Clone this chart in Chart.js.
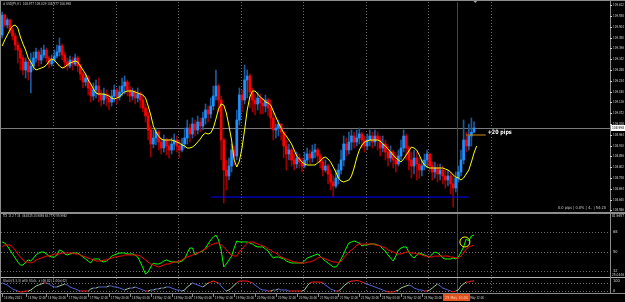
<!DOCTYPE html>
<html>
<head>
<meta charset="utf-8">
<script src="https://cdn.jsdelivr.net/npm/chart.js@4.4.1/dist/chart.umd.min.js"></script>
<style>
  html, body { margin: 0; padding: 0; background: #000; overflow: hidden; }
  #wrap { position: relative; width: 625px; height: 302px; }
</style>
</head>
<body>
<div id="wrap"><canvas id="chart" width="625" height="302"></canvas></div>
<script>
// USDJPY H1, one value per bar (bar 0 = 14 May 2021 03:00)
const closes = [109.563,109.513,109.538,109.488,109.458,109.413,109.388,109.348,109.288,109.328,
  109.278,109.308,109.348,109.378,109.338,109.363,109.388,109.348,109.318,109.338,
  109.358,109.378,109.408,109.363,109.328,109.308,109.338,109.318,109.348,109.308,
  109.268,109.228,109.248,109.198,109.158,109.188,109.208,109.163,109.138,109.168,
  109.148,109.128,109.158,109.188,109.153,109.178,109.208,109.228,109.188,109.158,
  109.178,109.148,109.168,109.138,109.098,109.058,108.988,108.918,108.948,108.978,
  108.928,108.898,108.938,108.908,108.888,108.918,108.938,108.908,108.888,108.918,
  108.948,108.998,108.968,109.018,108.988,109.028,109.008,109.048,109.088,109.068,
  109.108,109.158,109.208,109.138,108.938,108.788,108.758,108.808,108.888,108.858,
  109.038,109.163,109.138,109.238,109.258,109.178,109.138,109.118,109.148,109.123,
  109.108,109.138,109.098,109.048,108.988,108.998,109.018,108.978,108.908,108.868,
  108.888,108.838,108.818,108.848,108.828,108.808,108.838,108.868,108.848,108.878,
  108.888,108.858,108.828,108.788,108.808,108.768,108.728,108.708,108.748,108.788,
  108.838,108.918,108.888,108.928,108.958,108.928,108.948,108.968,108.938,108.908,
  108.938,108.958,108.928,108.958,108.938,108.898,108.918,108.878,108.848,108.878,
  108.838,108.818,108.858,108.898,108.958,108.898,108.838,108.808,108.848,108.818,
  108.788,108.808,108.838,108.868,108.808,108.778,108.798,108.768,108.788,108.758,
  108.738,108.758,108.718,108.698,108.748,108.778,108.838,108.938,108.908,108.958,
  108.977,108.998];
const highs = [109.578,109.568,109.548,109.543,109.498,109.473,109.428,109.398,109.363,109.348,
  109.338,109.373,109.378,109.398,109.388,109.398,109.413,109.398,109.358,109.363,
  109.388,109.413,109.448,109.418,109.378,109.348,109.358,109.353,109.368,109.358,
  109.318,109.278,109.268,109.258,109.218,109.223,109.238,109.248,109.188,109.198,
  109.188,109.168,109.188,109.213,109.198,109.208,109.248,109.258,109.238,109.208,
  109.198,109.188,109.198,109.178,109.158,109.118,109.078,109.008,108.988,108.998,
  108.988,108.948,108.963,108.948,108.938,108.948,108.968,108.958,108.938,108.948,
  108.998,109.038,109.018,109.048,109.038,109.058,109.048,109.078,109.118,109.108,
  109.148,109.208,109.288,109.218,109.158,108.948,108.838,108.848,108.918,108.908,
  109.088,109.198,109.188,109.313,109.288,109.268,109.198,109.168,109.178,109.168,
  109.148,109.163,109.148,109.138,109.078,109.018,109.038,109.018,108.978,108.938,
  108.918,108.898,108.868,108.878,108.868,108.848,108.878,108.898,108.888,108.913,
  108.918,108.898,108.868,108.848,108.838,108.818,108.788,108.758,108.788,108.818,
  108.888,108.958,108.948,108.978,108.988,108.978,108.988,108.998,108.978,108.958,
  108.968,108.988,108.978,108.988,108.978,108.958,108.958,108.938,108.908,108.908,
  108.888,108.868,108.888,108.938,108.988,108.968,108.908,108.878,108.888,108.878,
  108.848,108.838,108.868,108.888,108.868,108.828,108.828,108.818,108.818,108.808,
  108.788,108.788,108.778,108.758,108.778,108.808,108.888,109.038,108.978,109.018,
  109.048,109.029];
const lows = [109.448,109.503,109.498,109.473,109.438,109.388,109.323,109.288,109.263,109.248,
  109.238,109.173,109.288,109.328,109.308,109.318,109.348,109.328,109.298,109.308,
  109.328,109.348,109.358,109.338,109.298,109.288,109.298,109.288,109.308,109.278,
  109.238,109.198,109.208,109.163,109.128,109.138,109.148,109.128,109.108,109.118,
  109.108,109.088,109.108,109.128,109.118,109.138,109.158,109.168,109.158,109.128,
  109.138,109.118,109.128,109.098,109.078,109.028,108.938,108.853,108.898,108.913,
  108.888,108.868,108.878,108.863,108.848,108.868,108.888,108.878,108.848,108.878,
  108.898,108.918,108.928,108.948,108.958,108.968,108.978,108.988,109.018,109.028,
  109.048,109.088,109.138,109.078,108.838,108.623,108.688,108.738,108.778,108.813,
  108.838,109.013,109.078,109.118,109.148,109.098,109.078,109.063,109.088,109.068,
  109.068,109.078,109.058,108.998,108.938,108.948,108.958,108.938,108.848,108.788,
  108.838,108.808,108.788,108.798,108.798,108.778,108.798,108.818,108.818,108.828,
  108.848,108.828,108.798,108.758,108.778,108.718,108.688,108.653,108.698,108.718,
  108.768,108.808,108.858,108.868,108.888,108.898,108.908,108.918,108.898,108.878,
  108.888,108.908,108.898,108.908,108.888,108.858,108.878,108.838,108.808,108.828,
  108.798,108.778,108.808,108.838,108.878,108.838,108.788,108.748,108.768,108.738,
  108.748,108.758,108.788,108.798,108.778,108.738,108.748,108.728,108.738,108.718,
  108.698,108.708,108.668,108.603,108.678,108.728,108.758,108.818,108.878,108.888,
  108.908,108.977];
const firstOpen = 109.463;

const yellowMA = [109.408,109.438,109.463,109.488,109.508,109.513,109.498,109.453,109.418,109.388,
  109.348,109.328,109.303,109.288,109.293,109.298,109.303,109.313,109.333,109.343,
  109.338,109.323,109.308,109.298,109.303,109.313,109.323,109.328,109.333,109.328,
  109.308,109.288,109.268,109.238,109.218,109.193,109.173,109.168,109.168,109.168,
  109.163,109.158,109.148,109.143,109.148,109.153,109.168,109.178,109.183,109.183,
  109.183,109.178,109.173,109.168,109.163,109.148,109.108,109.063,109.008,108.978,
  108.958,108.943,108.938,108.938,108.938,108.938,108.933,108.928,108.923,108.913,
  108.908,108.898,108.898,108.903,108.913,108.928,108.943,108.963,108.973,108.968,
  108.973,108.998,109.043,109.093,109.118,109.113,109.073,109.008,108.938,108.838,
  108.803,108.833,108.898,108.988,109.088,109.153,109.183,109.183,109.168,109.153,
  109.143,109.128,109.123,109.113,109.083,109.053,109.023,108.998,108.973,108.958,
  108.938,108.918,108.888,108.858,108.843,108.828,108.818,108.813,108.813,108.813,
  108.813,108.823,108.833,108.848,108.853,108.843,108.828,108.803,108.778,108.748,
  108.733,108.728,108.733,108.738,108.758,108.798,108.848,108.888,108.913,108.928,
  108.933,108.938,108.938,108.938,108.938,108.933,108.918,108.908,108.893,108.878,
  108.863,108.848,108.838,108.828,108.843,108.863,108.883,108.903,108.898,108.888,
  108.863,108.833,108.813,108.803,108.798,108.798,108.798,108.798,108.798,108.798,
  108.793,108.788,108.778,108.763,108.753,108.748,108.738,108.748,108.768,108.788,
  108.828,108.873,108.908];

const tdiPrice = [58.8,57.8,55.1,51.4,47.7,44.0,40.3,37.5,37.5,40.3,
  42.2,41.2,44.0,46.8,48.6,49.5,49.5,47.7,45.8,44.9,
  44.9,46.8,51.4,50.5,47.7,46.8,47.7,48.6,48.6,48.6,
  46.8,44.9,43.1,41.2,39.4,43.1,43.1,43.1,41.2,40.3,
  41.2,43.1,45.8,46.8,47.7,48.6,48.6,48.6,47.7,47.7,
  47.7,46.8,44.9,40.3,34.8,29.2,31.1,35.7,39.4,38.5,
  38.5,39.4,41.2,42.2,41.2,40.3,40.3,40.3,40.3,41.2,
  43.1,48.6,53.2,53.2,46.8,48.6,49.5,50.5,53.2,56.9,
  60.6,63.4,65.2,60.6,51.4,35.7,38.5,42.2,45.8,53.2,
  59.7,58.8,58.8,58.8,58.8,57.8,56.9,55.1,54.2,54.2,
  54.2,52.3,50.5,46.8,44.0,44.9,44.9,44.0,43.1,41.2,
  40.3,39.4,39.4,39.4,39.4,39.4,41.2,44.0,44.9,45.8,
  46.8,47.7,45.8,43.1,41.2,39.4,37.5,35.7,35.7,38.5,
  43.1,47.7,53.2,57.8,58.8,59.7,58.8,57.8,55.1,56.0,
  56.0,56.9,56.9,56.9,56.0,55.1,52.3,50.5,46.8,44.0,
  41.2,45.8,51.4,53.2,54.2,54.2,49.5,45.8,44.0,46.8,
  48.6,47.7,46.8,45.8,44.9,47.7,49.5,48.6,46.8,44.0,
  43.1,43.1,43.1,44.0,43.1,44.9,49.5,54.2,61.5,59.7,
  64.3,65.2];

const tdiSignal = [54.2,56.0,56.0,56.0,54.2,51.4,47.7,44.9,42.2,40.3,
  40.3,39.4,40.3,42.2,43.1,44.0,44.9,45.8,45.8,46.8,
  47.7,47.7,47.7,48.6,48.6,48.6,48.6,48.6,47.7,47.7,
  46.8,45.8,44.9,44.0,43.1,42.2,41.2,41.2,41.2,42.2,
  42.2,43.1,44.0,44.9,44.9,45.8,45.8,46.8,46.8,46.8,
  46.8,46.8,46.8,45.8,44.0,42.2,40.3,38.5,37.5,36.6,
  35.7,36.6,37.5,38.5,38.5,39.4,40.3,40.3,41.2,42.2,
  44.0,44.9,45.8,46.8,47.7,48.6,49.5,51.4,52.3,54.2,
  56.0,56.9,57.8,57.8,56.0,54.2,51.4,48.6,46.8,45.8,
  45.8,49.5,52.3,55.1,57.8,58.8,58.8,57.8,56.9,56.0,
  55.1,54.2,52.3,51.4,49.5,48.6,46.8,44.9,44.0,43.1,
  42.2,41.2,40.3,40.3,39.4,39.4,39.4,40.3,40.3,41.2,
  42.2,44.0,44.9,44.0,43.1,42.2,41.2,40.3,40.3,39.4,
  41.2,44.0,46.8,49.5,51.4,53.2,56.0,56.9,56.9,56.9,
  56.9,56.9,56.9,56.0,56.0,55.1,54.2,53.2,51.4,50.5,
  49.5,48.6,47.7,47.7,48.6,49.5,49.5,48.6,48.6,47.7,
  47.7,46.8,45.8,45.8,44.9,44.9,45.8,45.8,45.8,45.8,
  45.8,45.8,44.9,44.9,44.0,44.0,45.8,48.6,52.3,54.2,
  55.1,56.0];

const stochMain = [81,73,65,50,35,27,19,12,12,19,
  19,27,42,58,65,73,81,81,73,58,
  50,50,58,65,73,65,50,42,35,27,
  19,19,19,19,35,42,42,50,50,50,
  50,58,58,50,50,42,35,27,35,42,
  42,50,42,35,27,19,19,27,27,35,
  35,42,42,50,50,42,35,27,27,19,
  27,50,65,81,73,65,58,50,65,81,
  88,96,88,81,58,35,19,27,42,65,
  81,96,96,96,96,88,81,65,50,35,
  27,27,19,19,27,27,35,27,27,27,
  19,19,19,19,19,19,27,58,81,88,
  88,88,88,81,65,50,35,27,19,19,
  35,58,73,88,96,96,100,96,88,81,
  73,65,58,50,42,35,27,19,12,12,
  12,19,27,42,50,58,65,58,42,35,
  27,27,19,19,27,42,58,73,58,42,
  35,27,19,12,19,27,58,73,88,88,
  96,96];

const priceTicks = [109.612,109.558,109.504,109.450,109.396,109.342,109.288,109.234,109.180,109.126,
  109.072,109.018,108.964,108.910,108.856,108.802,108.748,108.694,108.640,108.586];
const tdiLevels = [68, 50, 32];
const stochLevels = [80, 20];
const timeTickBars = [0,9,17,25,33,41,49,57,65,73,81,89,97,105,113,121,129,137,145,153,161,169,177];
const timeTickLabels = ['14 May 2021','14 May 12:00','14 May 20:00','17 May 04:00','17 May 12:00','17 May 20:00',
  '18 May 04:00','18 May 12:00','18 May 20:00','19 May 04:00','19 May 12:00','19 May 20:00',
  '20 May 04:00','20 May 12:00','20 May 20:00','21 May 04:00','21 May 12:00','21 May 20:00',
  '24 May 04:00','24 May 12:00','24 May 20:00','25 May 04:00','25 May 12:00'];
const daySeparators = [19.5,43.5,67.5,91.5,115.5,139.5,163.5,187.5];
const supportLevel = 108.653, supportFrom = 80, supportTo = 179;
const targetLevel = 108.963, targetFrom = 178, targetTo = 185.5;
const bidPrice = 108.998;
const markerBar = 174.5;

const opens = closes.map((c, i) => i === 0 ? firstOpen : closes[i - 1]);
const UP = '#1e90ff', DOWN = '#ff0000';
const UP_WICK = '#1d5a9c', DOWN_WICK = '#9a0000';

const isUp = closes.map((c, i) => c >= opens[i]);
const bodies = closes.map((c, i) => ({ x: i, y: [opens[i], c] }));
const wicks = closes.map((c, i) => ({ x: i, y: [lows[i], highs[i]] }));
const pts = arr => arr.map((v, i) => ({ x: i, y: v }));

const FONT = '"Liberation Sans Narrow", "DejaVu Sans Condensed", "DejaVu Sans", sans-serif';

const chrome = {
  id: 'chrome',
  beforeDraw(chart) {
    const c = chart.ctx;
    c.save();
    c.fillStyle = '#000';
    c.fillRect(0, 0, chart.width, chart.height);
    c.restore();
  },
  beforeDatasetsDraw(chart) {
    const c = chart.ctx, x = chart.scales.x, yT = chart.scales.yT, yS = chart.scales.yS, yP = chart.scales.yP;
    c.save();
    c.strokeStyle = '#6e6e6e';
    c.lineWidth = 1;
    c.setLineDash([1, 2]);
    daySeparators.forEach(b => {
      const px = Math.round(x.getPixelForValue(b)) + 0.5;
      c.beginPath(); c.moveTo(px, 2); c.lineTo(px, 293); c.stroke();
    });
    tdiLevels.forEach(v => {
      const py = Math.round(yT.getPixelForValue(v)) + 0.5;
      c.beginPath(); c.moveTo(1, py); c.lineTo(610, py); c.stroke();
    });
    stochLevels.forEach(v => {
      const py = Math.round(yS.getPixelForValue(v)) + 0.5;
      c.beginPath(); c.moveTo(1, py); c.lineTo(610, py); c.stroke();
    });
    c.setLineDash([]);
    // bid line
    const by = Math.round(yP.getPixelForValue(bidPrice)) + 0.5;
    c.strokeStyle = '#7a7a7a';
    c.beginPath(); c.moveTo(1, by); c.lineTo(610, by); c.stroke();
    // current bar marker
    const mx = Math.round(x.getPixelForValue(markerBar)) + 0.5;
    c.strokeStyle = '#8e2a12';
    c.beginPath(); c.moveTo(mx, 2); c.lineTo(mx, 293); c.stroke();
    c.restore();
  },
  afterDatasetsDraw(chart) {
    const c = chart.ctx, x = chart.scales.x, yP = chart.scales.yP, yT = chart.scales.yT, yS = chart.scales.yS;
    c.save();
    // panel frames
    c.fillStyle = '#8c8c8c';
    c.fillRect(0, 0, 625, 1);
    c.fillRect(0, 212, 625, 2);
    c.fillStyle = '#b4b4b4';
    c.fillRect(0, 277, 625, 1);
    c.fillStyle = '#8c8c8c';
    c.fillRect(0, 293, 625, 1);
    c.fillRect(610, 0, 1, 294);
    c.fillRect(0, 0, 1, 302);
    // chart shift marker
    const sx = x.getPixelForValue(181.5);
    c.fillStyle = '#9a9a9a';
    c.beginPath(); c.moveTo(sx - 2, 1); c.lineTo(sx + 2, 1); c.lineTo(sx, 3); c.fill();

    c.font = '4px ' + FONT;
    c.textBaseline = 'middle';
    c.fillStyle = '#d0d0d0';
    priceTicks.forEach(v => {
      const py = yP.getPixelForValue(v);
      c.fillRect(610, Math.round(py), 2, 1);
      c.fillText(v.toFixed(3), 613, py, 11);
    });
    // bid label
    const by = yP.getPixelForValue(bidPrice);
    c.fillStyle = '#ffffff';
    c.fillRect(611, Math.round(by) - 3, 14, 6);
    c.fillStyle = '#000';
    c.fillText(bidPrice.toFixed(3), 612, by, 12);

    // TDI / stoch scale labels
    c.fillStyle = '#d0d0d0';
    c.fillText('81.9657', 612, 216, 12);
    tdiLevels.forEach(v => c.fillText(String(v), 613, yT.getPixelForValue(v), 10));
    c.fillText('25.0446', 612, 275, 12);
    c.fillText('100', 613, yS.getPixelForValue(96), 10);
    c.fillText('0', 613, yS.getPixelForValue(20), 10);

    // titles
    c.fillStyle = '#c8c8c8';
    c.fillText('# USDJPY,H1  108.977 109.029 108.977 108.998', 3, 4, 68);
    c.fillText('TDI 13 2 7 34  46.8325 24.9898 63.7772 55.9962', 3, 216, 64);
    c.fillText('Stoch(5,3,3) with Stats  x (46.82) 1.00x(42)', 3, 281, 64);
    c.fillText('0.0 pips | 0.0% | 4.. | 54:20', 558, 208, 48);

    // time axis
    timeTickBars.forEach((b, k) => {
      const px = Math.round(x.getPixelForValue(b));
      c.fillStyle = '#8c8c8c';
      c.fillRect(px, 294, 1, 3);
      c.fillStyle = '#d0d0d0';
      c.fillText(timeTickLabels[k], px + 2, 298, 18);
    });
    const mx = x.getPixelForValue(markerBar);
    c.fillStyle = '#e0501c';
    c.fillRect(mx - 14, 294, 27, 7);
    c.fillStyle = '#ffd0b0';
    c.fillText('25 May 10:00', mx - 12, 298, 23);

    // target annotation
    const ty = yP.getPixelForValue(targetLevel);
    c.fillStyle = '#ffffff';
    c.font = 'bold 6px ' + FONT;
    c.fillText('+20 pips', x.getPixelForValue(targetTo) + 2, ty - 3, 24);

    // signal circle
    c.strokeStyle = '#ffff00';
    c.lineWidth = 1;
    c.beginPath();
    c.arc(x.getPixelForValue(177.5), yT.getPixelForValue(58.8), 5, 0, Math.PI * 2);
    c.stroke();
    c.restore();
  }
};

new Chart(document.getElementById('chart'), {
  type: 'bar',
  data: {
    datasets: [
      { type: 'bar', data: wicks, backgroundColor: isUp.map(u => u ? UP_WICK : DOWN_WICK), barThickness: 1,
        grouped: false, xAxisID: 'x', yAxisID: 'yP', order: 4 },
      { type: 'bar', data: bodies, backgroundColor: isUp.map(u => u ? UP : DOWN), barThickness: 2,
        grouped: false, minBarLength: 1, xAxisID: 'x', yAxisID: 'yP', order: 3 },
      { type: 'line', data: pts(yellowMA), borderColor: '#ffff00', borderWidth: 1, pointRadius: 0,
        xAxisID: 'x', yAxisID: 'yP', order: 1 },
      { type: 'line', data: [{ x: supportFrom, y: supportLevel }, { x: supportTo, y: supportLevel }],
        borderColor: '#0000ff', borderWidth: 1, pointRadius: 0, xAxisID: 'x', yAxisID: 'yP', order: 2 },
      { type: 'line', data: [{ x: targetFrom, y: targetLevel }, { x: targetTo, y: targetLevel }],
        borderColor: '#d08a00', borderWidth: 1, pointRadius: 0, xAxisID: 'x', yAxisID: 'yP', order: 2 },
      { type: 'line', data: pts(tdiPrice), borderColor: '#00ff00', borderWidth: 1, pointRadius: 0,
        xAxisID: 'x', yAxisID: 'yT', order: 2 },
      { type: 'line', data: pts(tdiSignal), borderColor: '#ff0000', borderWidth: 1, pointRadius: 0,
        xAxisID: 'x', yAxisID: 'yT', order: 1 },
      { type: 'line', data: pts(stochMain), borderWidth: 1, pointRadius: 0, borderColor: '#9cc89c',
        xAxisID: 'x', yAxisID: 'yS', order: 1,
        segment: {
          borderColor: s => {
            const a = s.p0.parsed.y, b = s.p1.parsed.y;
            if ((a >= 80 && b >= 80) || (a <= 20 && b <= 20)) return '#ff2020';
            return b > a ? '#9cc89c' : '#5a64d8';
          }
        } }
    ]
  },
  options: {
    responsive: false,
    animation: false,
    events: [],
    layout: { padding: { left: 1, right: 15, top: 0, bottom: 0 } },
    plugins: { legend: { display: false }, tooltip: { enabled: false } },
    scales: {
      x: { type: 'linear', min: -0.445, max: 233.16, offset: false, display: false },
      yP: { type: 'linear', position: 'right', min: 108.128, max: 109.638, display: false },
      yT: { type: 'linear', position: 'right', min: 3.4, max: 282.1, display: false },
      yS: { type: 'linear', position: 'right', min: -65.4, max: 2257.7, display: false }
    }
  },
  plugins: [chrome]
});
</script>
</body>
</html>
